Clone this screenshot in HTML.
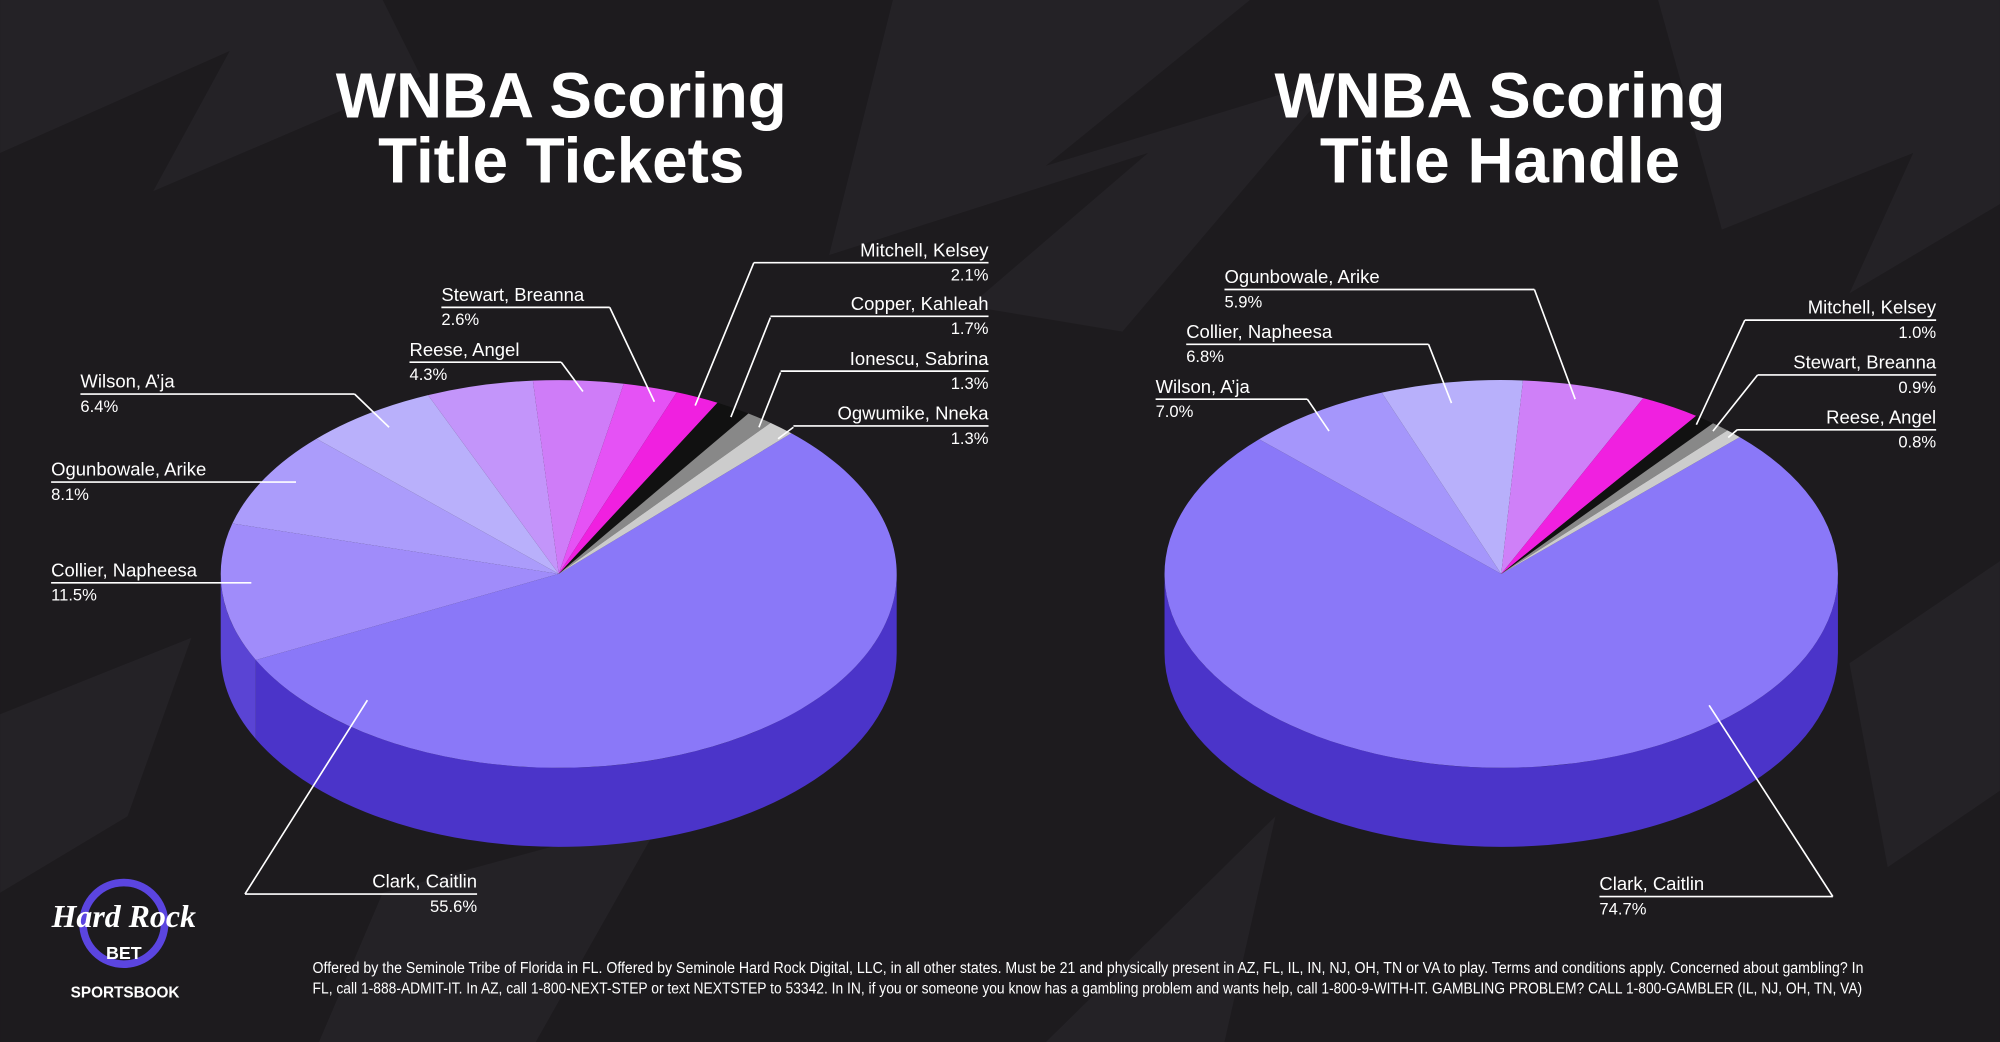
<!DOCTYPE html>
<html><head><meta charset="utf-8"><style>
html,body{margin:0;padding:0;background:#1e1c1f;}
svg{display:block}
text{font-family:"Liberation Sans",sans-serif;fill:#fff}
</style></head><body>
<svg id="s" width="2000" height="1042" viewBox="0 0 1568 817" xmlns="http://www.w3.org/2000/svg">
<rect width="1568" height="817" fill="#1d1b1e"/>
<g fill="#242226">
<polygon points="0,120 180,40 120,150 330,60 300,0 0,0"/>
<polygon points="700,0 980,0 820,130 1050,60 880,260 760,240 900,120 650,200"/>
<polygon points="1300,0 1568,0 1568,160 1450,230 1500,120 1350,180"/>
<polygon points="0,560 150,500 100,640 0,700"/>
<polygon points="1450,520 1568,440 1568,620 1480,680"/>
<polygon points="820,817 1000,640 960,817"/>
<polygon points="300,700 520,640 420,817 250,817"/>
</g>
<g id="pies"></g>
<g text-anchor="middle" font-weight="bold" font-size="50">
<text x="440" y="92">WNBA Scoring</text><text x="440" y="143">Title Tickets</text>
<text x="1176" y="92">WNBA Scoring</text><text x="1176" y="143">Title Handle</text>
</g>
<g stroke="#fff" stroke-width="1.3" fill="none" id="lines"></g>
<g font-size="14.5" id="labels"></g>
<g font-size="12" fill="#fff">
<text x="245" y="763" textLength="1216" lengthAdjust="spacingAndGlyphs">Offered by the Seminole Tribe of Florida in FL. Offered by Seminole Hard Rock Digital, LLC, in all other states. Must be 21 and physically present in AZ, FL, IL, IN, NJ, OH, TN or VA to play. Terms and conditions apply. Concerned about gambling? In</text>
<text x="245" y="779" textLength="1215" lengthAdjust="spacingAndGlyphs">FL, call 1-888-ADMIT-IT. In AZ, call 1-800-NEXT-STEP or text NEXTSTEP to 53342. In IN, if you or someone you know has a gambling problem and wants help, call 1-800-9-WITH-IT. GAMBLING PROBLEM? CALL 1-800-GAMBLER (IL, NJ, OH, TN, VA)</text>
</g>
<circle cx="97" cy="724" r="32" fill="none" stroke="#5b45e0" stroke-width="6"/>
<text x="97" y="727" text-anchor="middle" font-size="25" font-weight="bold" font-style="italic" style="font-family:'Liberation Serif',serif">Hard Rock</text>
<text x="97" y="752" text-anchor="middle" font-size="14" font-weight="bold">BET</text>
<text x="98" y="782" text-anchor="middle" font-size="12" font-weight="bold">SPORTSBOOK</text>
</svg>
<script>
const NS="http://www.w3.org/2000/svg";
function pie(cx,cy,rx,ry,d,start,sl){
 const g=document.getElementById('pies');
 let tot=sl.reduce((a,s)=>a+s[0],0);
 let a=start, segs=[];
 sl.forEach(s=>{let b=a+s[0]/tot*360;segs.push([a,b,s[1],s[2]]);a=b;});
 const P=(t,dy=0)=>{let r=t*Math.PI/180;return [cx+rx*Math.cos(r),cy+ry*Math.sin(r)+dy];};
 segs.forEach(([a1,a2,c,sc])=>{
  for(let k=-1;k<=1;k++){
   let lo=Math.max(a1,k*360),hi=Math.min(a2,k*360+180);
   if(hi>lo){let p1=P(lo),p2=P(hi),q2=P(hi,d),q1=P(lo,d);
    let p=document.createElementNS(NS,'path');
    p.setAttribute('d',`M${p1}A${rx},${ry} 0 0 1 ${p2}L${q2}A${rx},${ry} 0 0 0 ${q1}Z`);
    p.setAttribute('fill',sc);g.appendChild(p);}
  }
 });
 segs.forEach(([a1,a2,c])=>{
  let p1=P(a1),p2=P(a2),l=(a2-a1)>180?1:0;
  let p=document.createElementNS(NS,'path');
  p.setAttribute('d',`M${cx},${cy}L${p1}A${rx},${ry} 0 ${l} 1 ${p2}Z`);
  p.setAttribute('fill',c);g.appendChild(p);
 });
}
pie(438,450,265,152,62,-46.5,[[55.6,'#8a78f8','#4b34c9'],[11.5,'#a08cfa','#5a44d4'],[8.1,'#ab9cfb','#5a44d4'],[6.4,'#b9b0fb','#5a44d4'],[5.1,'#c395fa','#5a44d4'],[4.3,'#cf7cf8','#5a44d4'],[2.6,'#e552f5','#5a44d4'],[2.1,'#f020e0','#5a44d4'],[1.7,'#111','#333'],[1.3,'#888','#555'],[1.3,'#ccc','#888']]);
pie(1177,450,264,152,62,-44.9,[[74.7,'#8a78f8','#4b34c9'],[7.0,'#a596fb','#5a44d4'],[6.8,'#b8b0fb','#5a44d4'],[5.9,'#cf80f8','#5a44d4'],[2.9,'#f020e0','#5a44d4'],[1.0,'#111','#333'],[0.9,'#888','#555'],[0.8,'#ccc','#888']]);
const L=[
 ['Mitchell, Kelsey','2.1%',775,201,'end',591,775,[591,206],[545,318]],
 ['Copper, Kahleah','1.7%',775,243,'end',604,775,[604,249],[573,327]],
 ['Ionescu, Sabrina','1.3%',775,286,'end',612,775,[612,292],[595,335]],
 ['Ogwumike, Nneka','1.3%',775,329,'end',622,775,[622,335],[610,344]],
 ['Stewart, Breanna','2.6%',346,236,'start',346,478,[478,241],[513,315]],
 ['Reese, Angel','4.3%',321,279,'start',321,440,[440,284],[457,307]],
 ['Wilson, A\u2019ja','6.4%',63,304,'start',63,278,[278,309],[305,335]],
 ['Ogunbowale, Arike','8.1%',40,373,'start',40,232,null,null],
 ['Collier, Napheesa','11.5%',40,452,'start',40,197,null,null],
 ['Clark, Caitlin','55.6%',374,696,'end',192,374,[192,701],[288,549]],
 ['Ogunbowale, Arike','5.9%',960,222,'start',960,1203,[1203,227],[1235,313]],
 ['Collier, Napheesa','6.8%',930,265,'start',930,1120,[1120,270],[1138,316]],
 ['Wilson, A\u2019ja','7.0%',906,308,'start',906,1025,[1025,313],[1042,338]],
 ['Mitchell, Kelsey','1.0%',1518,246,'end',1368,1518,[1368,251],[1330,333]],
 ['Stewart, Breanna','0.9%',1518,289,'end',1378,1518,[1378,294],[1343,338]],
 ['Reese, Angel','0.8%',1518,332,'end',1362,1518,[1362,337],[1355,343]],
 ['Clark, Caitlin','74.7%',1254,698,'start',1254,1437,[1437,703],[1340,553]]
];
const lg=document.getElementById('lines'),tg=document.getElementById('labels');
L.forEach(([n,p,x,y,an,l1,l2,f,t])=>{
 let ln=document.createElementNS(NS,'path');
 let dd=`M${l1},${y+5}H${l2}`; if(f)dd+=`M${f}L${t}`;
 ln.setAttribute('d',dd);lg.appendChild(ln);
 [[n,y],[p,y+19]].forEach(([s,yy],i)=>{let tx=document.createElementNS(NS,'text');
  tx.setAttribute('x',x);tx.setAttribute('y',yy);tx.setAttribute('text-anchor',an);
  if(i)tx.setAttribute('font-size','13');tx.textContent=s;tg.appendChild(tx);});
});
</script>
</body></html>
